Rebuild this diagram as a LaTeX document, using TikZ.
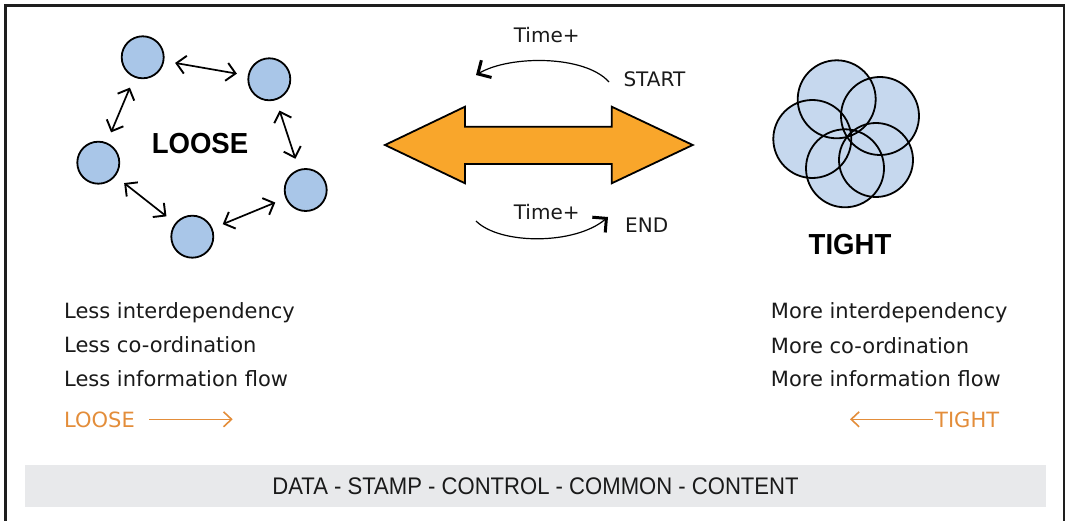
\documentclass[tikz,border=0pt]{standalone}
\usepackage{fontspec}
\setmainfont{DejaVu Sans}
\newfontfamily\headfont[FakeStretch=0.95]{Liberation Sans}
\newfontfamily\barfont[FakeStretch=0.92]{Liberation Sans}
\usetikzlibrary{arrows.meta}

\definecolor{loosefill}{HTML}{A9C6E8}
\definecolor{tightfill}{HTML}{C6D8EE}
\definecolor{bigarrow}{HTML}{F9A62B}
\definecolor{scaleorange}{HTML}{E38D3A}
\definecolor{barfill}{HTML}{E8E9EB}
\definecolor{frame}{HTML}{1E1E1E}
\definecolor{ink}{HTML}{1A1A1A}

\tikzset{
  bub/.style={circle, draw=black, line width=1.8pt, fill=loosefill,
              minimum size=42pt, inner sep=0pt},
  link/.style={{Straight Barb[length=9pt,width=18pt,line width=1.9pt]}-{Straight Barb[length=9pt,width=18pt,line width=1.9pt]},
               line width=1.7pt, shorten >=11pt, shorten <=11pt},
  timecurve/.style={-{Straight Barb[length=10pt,width=20pt,line width=3pt]}, line width=1.2pt},
  bodytext/.style={inner sep=0pt, text=ink, font=\fontsize{21}{25}\selectfont},
  smalltext/.style={inner sep=0pt, text=ink, font=\fontsize{20}{24}\selectfont},
  headtext/.style={inner sep=0pt, text=black, font=\headfont\bfseries\fontsize{29}{33}\selectfont},
  scaletext/.style={inner sep=0pt, text=scaleorange, font=\fontsize{21}{25}\selectfont},
  scalearrow/.style={-{Straight Barb[length=8pt,width=15pt,line width=1.6pt]}, line width=1.5pt, draw=scaleorange},
}

\begin{document}
\begin{tikzpicture}[x=1pt, y=-1pt]
  \useasboundingbox (0,0) rectangle (1068,521);

  % outer frame (open at the bottom)
  \draw[frame, line width=2.8pt] (5.5,521) -- (5.5,5.5) -- (1064,5.5) -- (1064,521);

  % ---------- loose coupling: separate modules ----------
  \node[bub] (m1) at (142.7,57.3) {};
  \node[bub] (m2) at (269.3,79.3) {};
  \node[bub] (m3) at (98.3,162.7) {};
  \node[bub] (m4) at (305.7,190) {};
  \node[bub] (m5) at (192.3,236.7) {};

  \draw[link] (m1) -- (m2);
  \draw[link] (m1) -- (m3);
  \draw[link] (m2) -- (m4);
  \draw[link] (m3) -- (m5);
  \draw[link] (m5) -- (m4);

  \node[headtext, anchor=base] (loosehead) at (200,153.3) {LOOSE};

  % ---------- centre: double arrow and time hints ----------
  \draw[fill=bigarrow, draw=black, line width=1.8pt, line join=miter]
    (385,145) -- (465,106.7) -- (465,126.7) -- (611.7,126.7) -- (611.7,106.7)
    -- (692.7,145) -- (611.7,183.3) -- (611.7,164) -- (465,164) -- (465,183.3) -- cycle;

  \node[smalltext, anchor=base] (timeup) at (546.7,42.7) {Time+};
  \node[smalltext, anchor=base west] (start) at (623.3,86.7) {START};
  \coordinate (upfrom) at (609,82);
  \coordinate (upto) at (476,75);
  \draw[timecurve] (upfrom) .. controls (585,55) and (510,55) .. (upto);

  \node[smalltext, anchor=base] (timedown) at (546.7,220) {Time+};
  \node[smalltext, anchor=base west] (end) at (625,232.7) {END};
  \coordinate (downfrom) at (476,221);
  \coordinate (downto) at (608,217);
  \draw[timecurve] (downfrom) .. controls (500,245) and (575,245) .. (downto);

  % ---------- tight coupling: overlapping modules ----------
  \foreach \cx/\cy/\r in {836.7/99.3/39, 880/116/39, 812.3/139/39, 876/160/37, 845/168.3/39}
    \fill[tightfill] (\cx,\cy) circle[radius=\r pt];
  \foreach \cx/\cy/\r in {836.7/99.3/39, 880/116/39, 812.3/139/39, 876/160/37, 845/168.3/39}
    \draw[black, line width=1.8pt] (\cx,\cy) circle[radius=\r pt];

  \node[headtext, anchor=base] (tighthead) at (850,254.3) {TIGHT};

  % ---------- characteristics ----------
  \node[bodytext, anchor=base west] (l1) at (64,318.4) {Less interdependency};
  \node[bodytext, anchor=base west] (l2) at (64,352.7) {Less co-ordination};
  \node[bodytext, anchor=base west] (l3) at (64,386) {Less information flow};
  \node[scaletext, anchor=base west] (lscale) at (64,427.3) {LOOSE};
  \coordinate (la1) at (149.3,419.3);
  \coordinate (la2) at (232.7,419.3);
  \draw[scalearrow] (la1) -- (la2);

  \node[bodytext, anchor=base west] (r1) at (770.7,319) {More interdependency};
  \node[bodytext, anchor=base west] (r2) at (770.7,353) {More co-ordination};
  \node[bodytext, anchor=base west] (r3) at (770.7,386) {More information flow};
  \node[scaletext, anchor=base east] (rscale) at (999.3,427.3) {TIGHT};
  \coordinate (ra1) at (932.7,419.3);
  \coordinate (ra2) at (850,419.3);
  \draw[scalearrow] (ra1) -- (ra2);

  % ---------- coupling types bar ----------
  \fill[barfill] (25,465) rectangle (1046,506.7);
  \node[inner sep=0pt, text=ink, font=\barfont\fontsize{24}{28}\selectfont, anchor=base]
    (types) at (535.5,494) {DATA - STAMP - CONTROL - COMMON - CONTENT};
\end{tikzpicture}
\end{document}
